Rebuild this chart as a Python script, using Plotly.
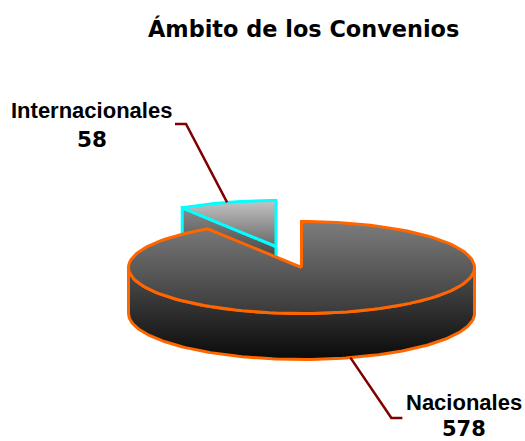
import numpy as np
import plotly.graph_objects as go

categories = ["Nacionales", "Internacionales"]
values = [578, 58]
title = "Ámbito de los Convenios"

WIDTH, HEIGHT = 525, 441
RX, RY, DEPTH = 173, 46, 46
BIG_C = (301.5, 267.5)
SMALL_C = (276, 246.5)
ORANGE = "#ff6600"
CYAN = "#00ffff"
LEADER = "#800000"

total = sum(values)
big_sweep = 360.0 * values[0] / total
small_sweep = 360.0 * values[1] / total


def rim(c, a0, a1, dy=0, n=140):
    """Points on the ellipse; angles clockwise from 12 o'clock, degrees."""
    t = np.radians(np.linspace(a0, a1, n))
    return c[0] + RX * np.sin(t), c[1] - RY * np.cos(t) + dy


def grad(stops):
    return dict(type="vertical", colorscale=stops)


def poly(x, y, line, stops, width=3):
    return go.Scatter(
        x=list(x), y=list(y), mode="lines", fill="toself",
        fillgradient=grad(stops),
        line=dict(color=line, width=width), hoverinfo="skip", showlegend=False,
    )


fig = go.Figure()

# small exploded slice: radial side face
ex, ey = rim(SMALL_C, -small_sweep, -small_sweep, n=1)
fig.add_trace(poly(
    [SMALL_C[0], ex[0], ex[0], SMALL_C[0], SMALL_C[0]],
    [SMALL_C[1], ey[0], ey[0] + DEPTH, SMALL_C[1] + DEPTH, SMALL_C[1]],
    CYAN, [[0, "#1a1a1a"], [1, "#8a8a8a"]]))
# small slice: top
ax, ay = rim(SMALL_C, -small_sweep, 0)
fig.add_trace(poly(
    [SMALL_C[0], *ax, SMALL_C[0]], [SMALL_C[1], *ay, SMALL_C[1]],
    CYAN, [[0, "#686868"], [1, "#c4c4c4"]]))

# big slice: outer wall (front half)
wx, wy = rim(BIG_C, 90, 270)
bx, by = rim(BIG_C, 270, 90, dy=DEPTH)
fig.add_trace(poly(
    [*wx, *bx, wx[0]], [*wy, *by, wy[0]],
    ORANGE, [[0, "#0a0a0a"], [1, "#505050"]]))
# big slice: top
tx, ty = rim(BIG_C, 0, big_sweep)
fig.add_trace(poly(
    [BIG_C[0], *tx, BIG_C[0]], [BIG_C[1], *ty, BIG_C[1]],
    ORANGE, [[0, "#3a3a3a"], [1, "#7c7c7c"]]))

# leader lines, anchored at each slice's mid-angle
big_mid = big_sweep / 2
lx, ly = rim(BIG_C, big_mid, big_mid, dy=DEPTH, n=1)
sx, sy = rim(SMALL_C, -small_sweep / 2, -small_sweep / 2, n=1)
for xs, ys in (
    ([lx[0], lx[0] + 41, lx[0] + 52], [ly[0], 418, 418]),
    ([sx[0], 186, 175], [sy[0], 124, 124]),
):
    fig.add_trace(go.Scatter(x=xs, y=ys, mode="lines", hoverinfo="skip",
                             showlegend=False,
                             line=dict(color=LEADER, width=2.5)))


def text(x, y, s, family, size):
    fig.add_annotation(x=x, y=y, text=f"<b>{s}</b>", showarrow=False,
                       xanchor="center", yanchor="middle",
                       font=dict(family=family, size=size, color="#000000"))


text(303, 28.5, title, "DejaVu Sans", 22.4)
text(91, 110, categories[1], "Liberation Sans", 22)
text(92, 139, str(values[1]), "DejaVu Sans", 21.5)
text(464, 402, categories[0], "Liberation Sans", 22)
text(464, 428.5, str(values[0]), "DejaVu Sans", 21)

fig.update_layout(
    width=WIDTH, height=HEIGHT, margin=dict(l=0, r=0, t=0, b=0),
    paper_bgcolor="white", plot_bgcolor="white", showlegend=False,
    xaxis=dict(range=[0, WIDTH], visible=False, fixedrange=True),
    yaxis=dict(range=[HEIGHT, 0], visible=False, fixedrange=True),
)
fig.write_html("out.html", config={"displayModeBar": False},
               post_script="document.body.style.margin='0';document.documentElement.style.overflow='hidden';")
